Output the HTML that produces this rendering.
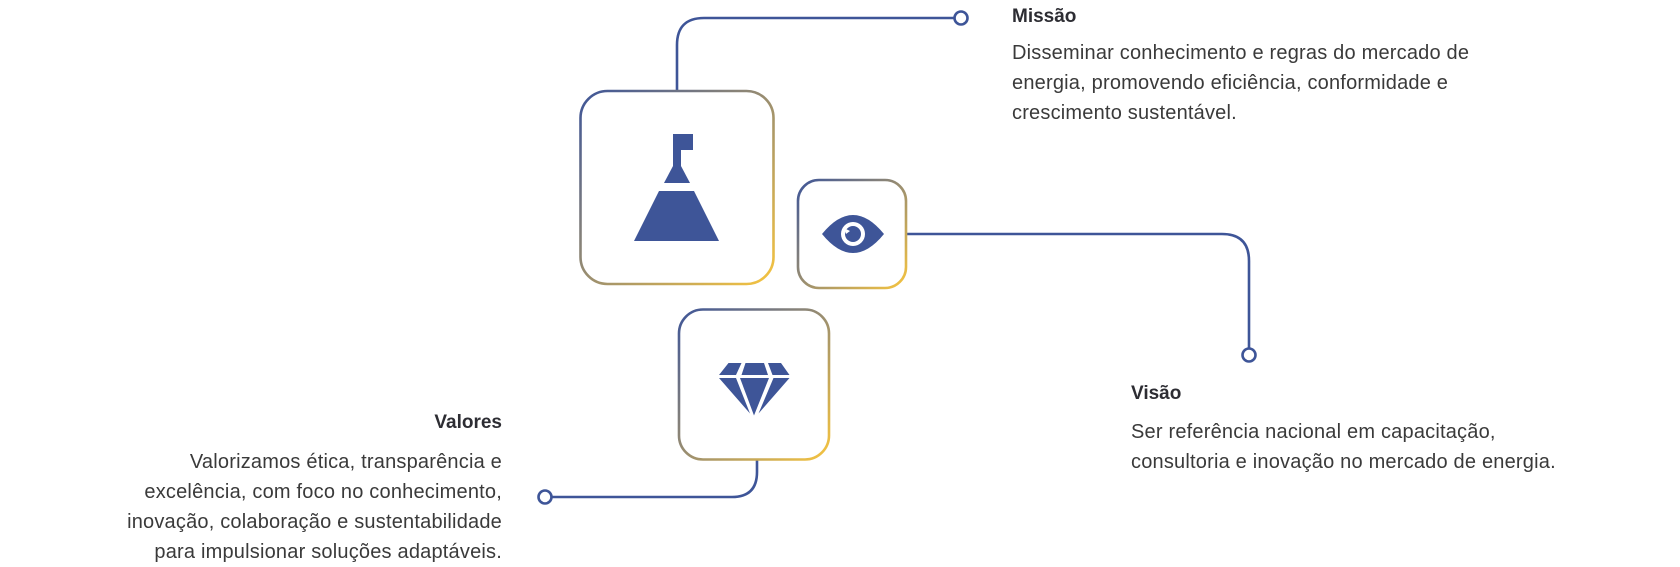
<!DOCTYPE html>
<html><head><meta charset="utf-8"><style>
body{margin:0;width:1680px;height:566px;background:#fff;position:relative;overflow:hidden;font-family:"Liberation Sans",sans-serif;color:#333}
.t{position:absolute;white-space:nowrap}
h3{margin:0;font-size:19px;line-height:24px;font-weight:bold;color:#2d2d33}
p{margin:0;font-size:20px;line-height:30px;letter-spacing:0.2px;color:#3a3a3a}
</style></head><body>
<svg width="1680" height="566" style="position:absolute;left:0;top:0">
<defs>
<linearGradient id="g" x1="0" y1="0" x2="1" y2="1">
<stop offset="0" stop-color="#3e5598"/><stop offset="0.5" stop-color="#9a8e70"/><stop offset="1" stop-color="#f6c43f"/>
</linearGradient>
</defs>
<g fill="none" stroke="#3e5598" stroke-width="2.6">
<path d="M677 91 V45 Q677 18 704 18 H955"/>
<circle cx="961" cy="18" r="6.5" fill="#fff"/>
<path d="M906 234 H1222 Q1249 234 1249 261 V348"/>
<circle cx="1249" cy="355" r="6.5" fill="#fff"/>
<path d="M757 460 V472 Q757 497 732 497 H552"/>
<circle cx="545" cy="497" r="6.5" fill="#fff"/>
</g>
<rect x="580.5" y="91" width="193" height="193" rx="27" fill="#fff" stroke="url(#g)" stroke-width="2.6"/>
<rect x="798" y="180" width="108" height="108" rx="21" fill="#fff" stroke="url(#g)" stroke-width="2.6"/>
<rect x="679" y="309.5" width="150" height="150" rx="24" fill="#fff" stroke="url(#g)" stroke-width="2.6"/>
<g fill="#3e5598">
<rect x="673" y="134" width="20" height="16"/>
<rect x="673" y="134" width="8" height="33"/>
<polygon points="673,166 681,166 690,183 664,183"/>
<polygon points="659,191 694,191 719,241 634,241"/>
<path d="M822 234 Q853 196 884 234 Q853 272 822 234Z"/>
<circle cx="853" cy="234" r="12" fill="#fff"/>
<circle cx="853" cy="234" r="8"/>
<polygon points="844,228 850,231 846,234" fill="#fff"/>
<polygon points="728.5,363 741.5,363 736,375 719,375"/>
<polygon points="745.5,363 764,363 768,375 741.5,375"/>
<polygon points="768,363 781,363 789.5,375 772.5,375"/>
<polygon points="719,378 736,378 750,413.5"/>
<polygon points="740,378 769,378 754,415.5"/>
<polygon points="773.5,378 789.5,378 758.5,413.5"/>
</g>
</svg>
<div class="t" style="left:1012px;top:5px"><h3>Missão</h3></div>
<div class="t" style="left:1012px;top:37.5px"><p>Disseminar conhecimento e regras do mercado de<br>energia, promovendo eficiência, conformidade e<br>crescimento sustentável.</p></div>
<div class="t" style="left:1131px;top:382px"><h3>Visão</h3></div>
<div class="t" style="left:1131px;top:417px"><p>Ser referência nacional em capacitação,<br>consultoria e inovação no mercado de energia.</p></div>
<div class="t" style="right:1178px;top:411px;text-align:right"><h3>Valores</h3></div>
<div class="t" style="right:1178px;top:447px;text-align:right"><p>Valorizamos ética, transparência e<br>excelência, com foco no conhecimento,<br>inovação, colaboração e sustentabilidade<br>para impulsionar soluções adaptáveis.</p></div>
</body></html>
